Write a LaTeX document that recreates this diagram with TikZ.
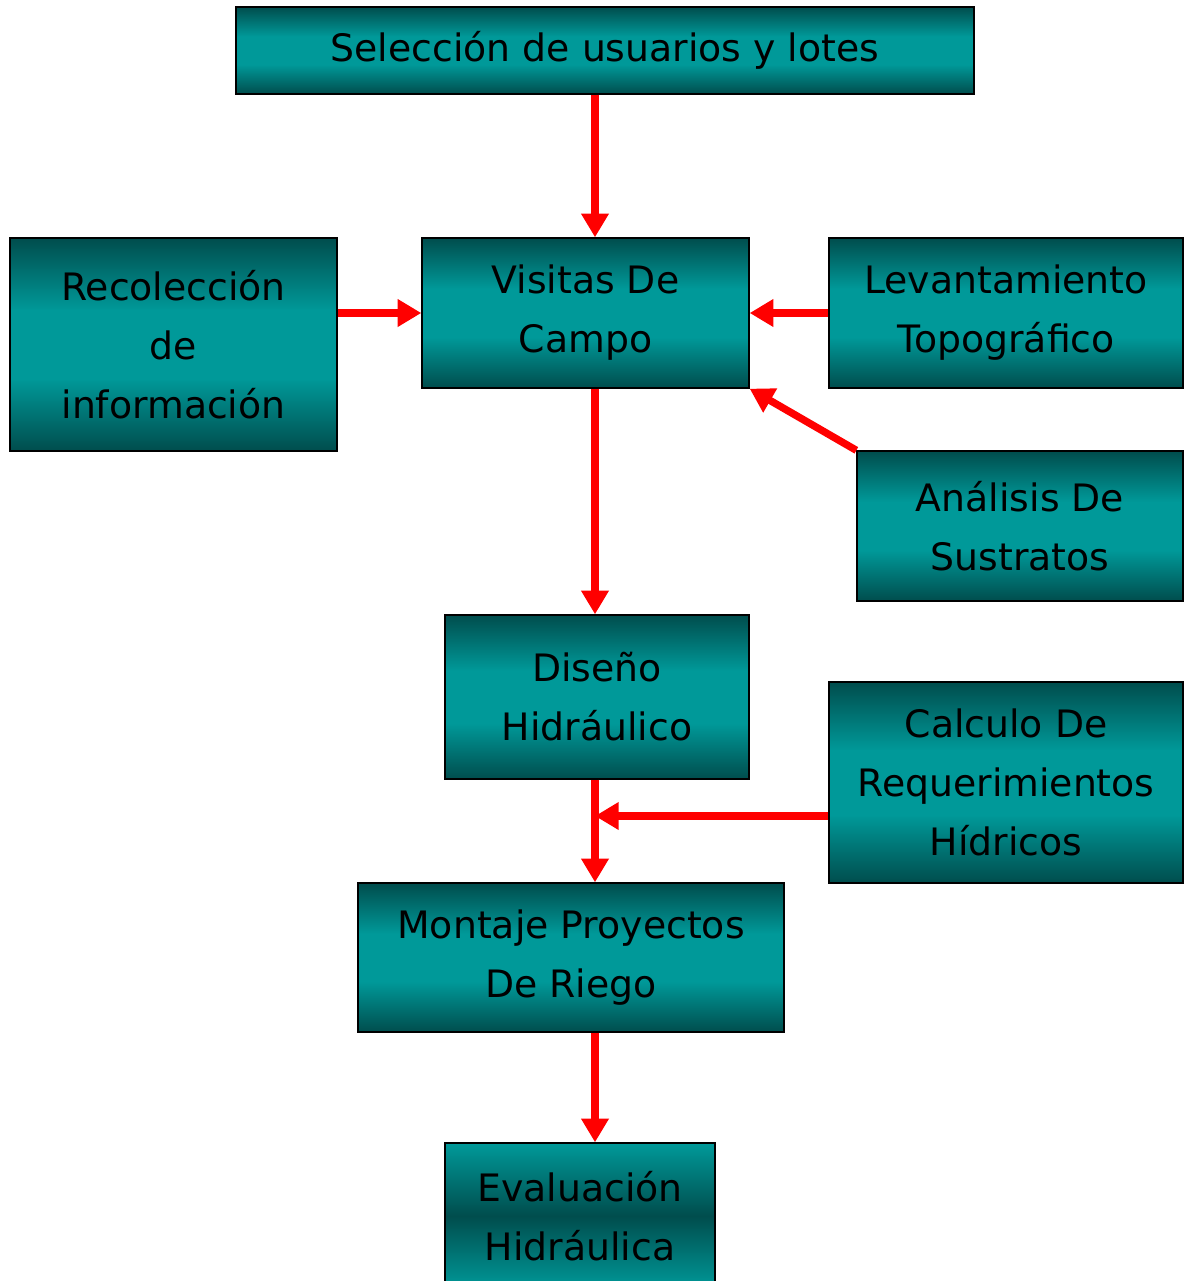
\documentclass[tikz,border=0pt]{standalone}
\usepackage{fontspec}
\setmainfont{DejaVu Sans}
\usetikzlibrary{arrows.meta}
\definecolor{tealdark}{RGB}{0,77,77}
\definecolor{teallight}{RGB}{0,153,153}
\pgfdeclareverticalshading{boxshade}{100bp}{color(0bp)=(tealdark); color(25bp)=(tealdark); color(42bp)=(teallight); color(58bp)=(teallight); color(75bp)=(tealdark); color(100bp)=(tealdark)}
\pgfdeclareverticalshading{evalshade}{100bp}{color(0bp)=(teallight); color(25bp)=(teallight); color(50bp)=(tealdark); color(75bp)=(teallight); color(100bp)=(teallight)}
\tikzset{>={Triangle[length=13.5pt,width=15pt]}}
\tikzset{
  stage/.style={draw=black, line width=0.8pt, shade, shading=boxshade, align=center,
    font=\fontsize{21.5}{33.5}\selectfont, inner sep=0pt},
  flow/.style={->, red, line width=4.2pt}
}

\begin{document}
\begin{tikzpicture}[x=0.02cm, y=-0.02cm]
    \useasboundingbox (0,0) rectangle (1184,1281);
    \clip (0,0) rectangle (1184,1281);
    % stages
    \node[stage, minimum width=14.76cm, minimum height=1.74cm] (sel) at (605,50.5) {Selección de usuarios y lotes};
    \node[stage, minimum width=6.54cm, minimum height=3cm] (vis) at (585.5,313) {Visitas De\\Campo};
    \node[stage, minimum width=6.54cm, minimum height=4.26cm] (rec) at (173.5,344.5) {Recolección\\de\\información};
    \node[stage, minimum width=7.08cm, minimum height=3cm] (lev) at (1006,313) {Levantamiento\\Topográfico};
    \node[stage, minimum width=6.52cm, minimum height=3cm] (ana) at (1020,526) {Análisis De\\Sustratos};
    \node[stage, minimum width=6.08cm, minimum height=3.28cm] (dis) at (597,697) {Diseño\\Hidráulico};
    \node[stage, minimum width=7.08cm, minimum height=4.02cm] (cal) at (1006,782.5) {Calculo De\\Requerimientos\\Hídricos};
    \node[stage, minimum width=8.52cm, minimum height=2.98cm] (mon) at (571,957.5) {Montaje Proyectos\\De Riego};
    \node[stage, shading=evalshade, minimum width=5.4cm, minimum height=2.92cm] (eva) at (580,1216) {Evaluación\\Hidráulica};
    % flow
    \coordinate (axis) at (595,0);
    \coordinate (merge) at (595,816);
    \draw[flow] (sel.south -| axis) -- (vis.north -| axis);
    \draw[flow] (vis.south -| axis) -- (dis.north -| axis);
    \draw[flow] (dis.south -| axis) -- (mon.north -| axis);
    \draw[flow] (mon.south -| axis) -- (eva.north -| axis);
    \draw[flow] (rec.east |- vis.west) -- (vis.west);
    \draw[flow] (lev.west) -- (vis.east);
    \draw[flow] (ana.north west) -- (vis.south east);
    \draw[flow] (cal.west |- merge) -- (merge);
\end{tikzpicture}
\end{document}
